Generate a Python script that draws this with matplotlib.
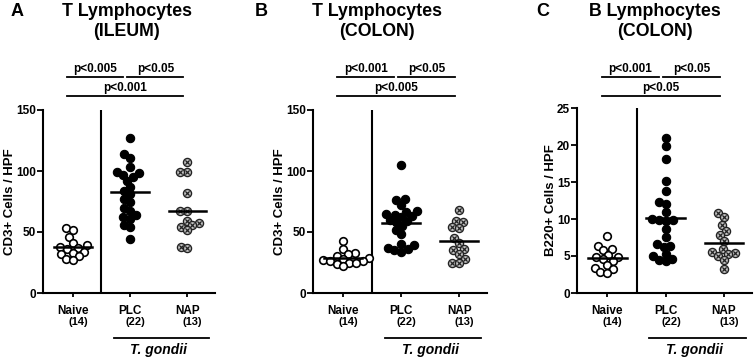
import numpy as np
import matplotlib
matplotlib.use("Agg")
import matplotlib.pyplot as plt
import matplotlib.transforms as mtransforms

plt.rcParams['font.family'] = ['Liberation Sans', 'DejaVu Sans']
plt.rcParams['font.weight'] = 'bold'

# DATA ---------------------------------------------------------------------
groups = ["Naive", "PLC", "NAP"]
counts = ["(14)", "(22)", "(13)"]

ileum_t_naive = [53, 52, 46, 41, 39, 38, 37, 36, 34, 33, 32, 30, 28, 27]
ileum_t_plc = [127, 114, 111, 103, 99, 98, 97, 95, 92, 87, 84, 81, 77, 75,
               70, 67, 64, 62, 61, 56, 54, 44]
ileum_t_nap = [107, 99, 99, 82, 67, 67, 59, 57, 56, 54, 52, 38, 37]

colon_t_naive = [43, 36, 33, 32, 30, 29, 28, 27, 26, 26, 25, 25, 24, 22]
colon_t_plc = [105, 77, 76, 72, 67, 66, 65, 64, 63, 62, 60, 59, 58, 55,
               52, 48, 40, 39, 37, 36, 35, 34]
colon_t_nap = [68, 59, 58, 54, 53, 45, 41, 36, 35, 32, 28, 25, 25]

colon_b_naive = [7.7, 6.4, 6.0, 5.8, 5.2, 4.9, 4.8, 4.6, 4.3, 3.8, 3.4, 3.3, 2.8, 2.7]
colon_b_plc = [21.0, 19.8, 18.1, 15.2, 13.8, 12.3, 12.0, 11.0, 10.0, 9.8, 9.8,
               9.7, 8.6, 7.6, 6.6, 6.4, 6.2, 5.3, 5.0, 4.6, 4.3, 4.4]
colon_b_nap = [10.8, 10.3, 9.2, 8.4, 7.8, 7.0, 6.0, 5.5, 5.4, 5.3, 5.0, 4.5, 3.3]

panels = [
    dict(letter="A", title="T Lymphocytes", sub="(ILEUM)", ylabel="CD3+ Cells / HPF",
         data=[ileum_t_naive, ileum_t_plc, ileum_t_nap], ymax=150, step=50,
         pvals=["p<0.005", "p<0.05", "p<0.001"]),
    dict(letter="B", title="T Lymphocytes", sub="(COLON)", ylabel="CD3+ Cells / HPF",
         data=[colon_t_naive, colon_t_plc, colon_t_nap], ymax=150, step=50,
         pvals=["p<0.001", "p<0.05", "p<0.005"]),
    dict(letter="C", title="B Lymphocytes", sub="(COLON)", ylabel="B220+ Cells / HPF",
         data=[colon_b_naive, colon_b_plc, colon_b_nap], ymax=25, step=5,
         pvals=["p<0.001", "p<0.05", "p<0.05"]),
]

W, H = 755, 360
# axes boxes in pixels: left, top(y of ymax), right, bottom(y of 0)
boxes = [(43, 110, 215, 293), (313, 110, 487, 293), (577, 108, 752, 293)]
title_x = [127, 377, 655]
letter_x = [17, 261, 543]


def swarm(vals, px_y, px_x, d=7.0):
    """simple beeswarm: place points in pixel space, return x offsets (data units)"""
    vals = np.asarray(vals, float)
    order = np.argsort(vals)
    xs = np.zeros(len(vals))
    placed = []
    for i in order:
        y = vals[i] * px_y
        cands = [0.0]
        for (px, py) in placed:
            dy = abs(y - py)
            if dy < d:
                dx = np.sqrt(d * d - dy * dy)
                cands += [px + dx, px - dx]
        cands = sorted(cands, key=lambda c: (abs(c), c))
        for c in cands:
            ok = all((c - px) ** 2 + (y - py) ** 2 >= d * d - 1e-6 for (px, py) in placed)
            if ok:
                xs[i] = c
                placed.append((c, y))
                break
    return xs / px_x


fig = plt.figure(figsize=(W / 100, H / 100), dpi=100)

for k, p in enumerate(panels):
    l, t, r, b = boxes[k]
    ax = fig.add_axes([l / W, 1 - b / H, (r - l) / W, (b - t) / H])
    xlo, xhi = -0.52, 2.48
    px_x = (r - l) / (xhi - xlo)
    px_y = (b - t) / p["ymax"]

    for j, vals in enumerate(p["data"]):
        xo = swarm(vals, px_y, px_x) + j
        if j == 0:
            ax.scatter(xo, vals, s=30, facecolor="white", edgecolor="black",
                       linewidth=1.2, zorder=3, clip_on=False)
        elif j == 1:
            ax.scatter(xo, vals, s=36, facecolor="black", edgecolor="black",
                       linewidth=0.8, zorder=3, clip_on=False)
        else:
            ax.scatter(xo, vals, s=34, facecolor="#c4c4c4", edgecolor="#222222",
                       linewidth=1.0, zorder=3, clip_on=False)
            ax.scatter(xo, vals, s=9, marker="x", color="#222222",
                       linewidth=0.9, zorder=4, clip_on=False)
        m = np.mean(vals)
        ax.plot([j - 0.33, j + 0.33], [m, m], color="black", lw=1.8, zorder=5)

    ax.set_xlim(xlo, xhi)
    ax.set_ylim(0, p["ymax"])
    ax.axvline(0.5, color="black", lw=1.5)
    for s in ["top", "right"]:
        ax.spines[s].set_visible(False)
    ax.spines["left"].set_linewidth(1.5)
    ax.spines["bottom"].set_linewidth(1.5)
    ax.set_yticks(np.arange(0, p["ymax"] + 1e-9, p["step"]))
    ax.set_yticklabels([f"{v:g}" for v in np.arange(0, p["ymax"] + 1e-9, p["step"])],
                       fontsize=8.5, fontweight="bold")
    ax.tick_params(axis="y", direction="out", length=4, width=1.3, pad=1)
    ax.set_xticks([0, 1, 2])
    ax.set_xticklabels(groups, fontsize=8.5, fontweight="bold")
    ax.tick_params(axis="x", direction="out", length=3, width=1.3, pad=6)
    ax.set_ylabel(p["ylabel"], fontsize=9.5, fontweight="bold", labelpad=0)

    xtr = ax.get_xaxis_transform()
    for j, c in enumerate(counts):
        tr = mtransforms.offset_copy(xtr, fig=fig, y=-29, units="dots")
        ax.text(j + 0.09, 0, c, transform=tr, ha="center", va="center",
                fontsize=8, fontweight="bold")

    # T. gondii bracket
    tr = mtransforms.offset_copy(xtr, fig=fig, y=-45, units="dots")
    ax.plot([0.72, 2.37], [0, 0], color="black", lw=1.3, transform=tr, clip_on=False)
    tr = mtransforms.offset_copy(xtr, fig=fig, y=-57, units="dots")
    ax.text(1.5, 0, "T. gondii", transform=tr, ha="center", va="center",
            fontsize=10, fontweight="bold", style="italic")

    # significance bars
    y1 = (b - 77) / (b - t)
    y2 = (b - 96) / (b - t)
    bars = [(-0.1, 0.88, y1), (0.95, 1.93, y1), (-0.1, 1.93, y2)]
    for (x0, x1, yy), lab in zip(bars, p["pvals"]):
        ax.plot([x0, x1], [yy, yy], color="black", lw=1.3, transform=xtr, clip_on=False)
        ax.text((x0 + x1) / 2, yy + 0.012, lab, transform=xtr, ha="center", va="bottom",
                fontsize=8.5, fontweight="bold")

    fig.text(title_x[k] / W, 1 - 12 / H, p["title"], ha="center", va="center",
             fontsize=12.8, fontweight="bold")
    fig.text(title_x[k] / W, 1 - 32 / H, p["sub"], ha="center", va="center",
             fontsize=12.8, fontweight="bold")
    fig.text(letter_x[k] / W, 1 - 11 / H, p["letter"], ha="center", va="center",
             fontsize=13, fontweight="bold")

fig.savefig("out.png", dpi=100)
